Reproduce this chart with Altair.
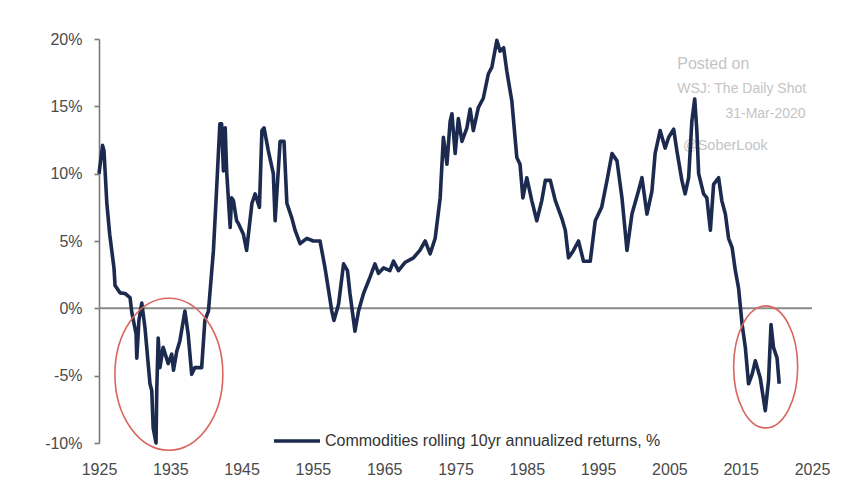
import altair as alt
import pandas as pd

# --- data ---
years = [
    1925.0, 1925.5, 1925.7, 1926.1, 1926.5, 1927.1, 1927.25, 1927.95, 1928.65, 1929.35,
    1929.6, 1930.2, 1930.3, 1930.6, 1931.0, 1931.45, 1932.15, 1932.4, 1932.6, 1933.0,
    1933.1, 1933.3, 1933.55, 1934.0, 1934.7, 1935.2, 1935.45, 1935.9, 1936.35, 1937.05,
    1937.5, 1938.0, 1938.45, 1939.4, 1939.85, 1940.35, 1941.05, 1941.5, 1941.95, 1942.2,
    1942.45, 1942.7, 1942.9, 1943.4, 1943.6, 1943.85, 1944.3, 1944.55, 1945.25, 1945.7,
    1946.45, 1946.9, 1947.5, 1947.85, 1948.15, 1948.75, 1949.45, 1949.7, 1950.4, 1950.95,
    1951.35, 1952.05, 1952.5, 1953.2, 1954.15, 1955.05, 1956.0, 1956.7, 1957.15, 1957.65,
    1957.95, 1958.6, 1959.3, 1959.85, 1960.2, 1960.9, 1961.4, 1962.1, 1963.0, 1963.7,
    1964.2, 1964.9, 1965.8, 1966.3, 1967.0, 1967.9, 1969.1, 1970.0, 1970.75, 1971.45,
    1972.15, 1972.85, 1973.3, 1973.8, 1974.25, 1974.5, 1974.95, 1975.4, 1975.9, 1976.6,
    1977.05, 1977.5, 1978.2, 1978.9, 1979.6, 1980.1, 1980.8, 1981.25, 1981.75, 1982.2,
    1982.9, 1983.6, 1984.05, 1984.45, 1985.0, 1985.7, 1986.4, 1987.1, 1987.6, 1988.3,
    1989.0, 1989.9, 1990.4, 1990.85, 1991.55, 1992.25, 1992.95, 1993.9, 1994.6, 1995.5,
    1996.25, 1996.95, 1997.65, 1998.35, 1999.05, 1999.75, 2000.65, 2001.15, 2001.85, 2002.55,
    2003.0, 2003.7, 2004.4, 2004.9, 2005.6, 2006.05, 2006.75, 2007.2, 2007.7, 2008.15,
    2008.55, 2008.85, 2009.1, 2009.8, 2010.25, 2010.75, 2011.2, 2011.9, 2012.35, 2012.85,
    2013.3, 2013.8, 2014.25, 2014.7, 2015.2, 2015.65, 2016.1, 2016.6, 2017.05, 2017.75,
    2018.45, 2018.9, 2019.25, 2019.6, 2020.1, 2020.4,
]
returns = [
    10.0, 12.1, 11.7, 7.8, 5.5, 3.0, 1.7, 1.15, 1.1, 0.8,
    -0.3, -1.9, -3.7, -0.9, 0.4, -1.45, -5.6, -6.1, -8.9, -10.0,
    -6.1, -2.2, -4.4, -2.9, -4.1, -3.4, -4.6, -3.2, -2.4, -0.2,
    -1.9, -4.9, -4.4, -4.4, -0.9, -0.2, 4.3, 8.9, 13.7, 13.7,
    10.2, 13.4, 10.2, 6.0, 8.2, 8.0, 6.5, 6.3, 5.5, 4.3,
    7.8, 8.5, 7.5, 13.2, 13.4, 11.7, 10.0, 6.5, 12.4, 12.4,
    7.8, 6.7, 5.8, 4.8, 5.2, 5.0, 5.0, 3.0, 1.5, -0.2,
    -0.9, 0.3, 3.3, 2.8, 1.1, -1.7, -0.2, 1.1, 2.3, 3.3,
    2.6, 3.0, 2.8, 3.5, 2.8, 3.4, 3.75, 4.3, 5.0, 4.05,
    5.2, 8.2, 12.7, 10.7, 13.9, 14.45, 11.5, 14.1, 12.4, 13.4,
    14.8, 13.2, 14.9, 15.6, 17.4, 17.9, 19.9, 19.1, 19.35, 17.6,
    15.4, 11.2, 10.7, 8.2, 9.7, 8.0, 6.5, 8.0, 9.5, 9.5,
    8.0, 6.7, 5.8, 3.75, 4.3, 5.0, 3.5, 3.5, 6.5, 7.5,
    9.5, 11.5, 10.95, 8.2, 4.3, 7.0, 8.7, 9.7, 7.0, 8.7,
    11.5, 13.2, 11.9, 12.7, 13.3, 11.7, 9.5, 8.5, 9.7, 13.9,
    15.55, 13.2, 10.0, 8.5, 8.2, 5.8, 9.2, 9.7, 8.0, 7.0,
    5.2, 4.5, 2.8, 1.5, -1.2, -2.9, -5.6, -4.9, -3.9, -5.2,
    -7.6, -5.4, -1.2, -2.9, -3.7, -5.6,
]
series_name = "Commodities rolling 10yr annualized returns, %"

x_ticks = [1925, 1935, 1945, 1955, 1965, 1975, 1985, 1995, 2005, 2015, 2025]
y_ticks = [-10, -5, 0, 5, 10, 15, 20]

# highlighted periods (ellipse centres, in data units)
circle_years = [1934.8, 2018.5]
circle_values = [-4.9, -4.35]
circle_sizes = [23104, 14884]  # marker areas
circle_shapes = [
    "M 0.71 0 C 0.71 0.552 0.392 1 0 1 C -0.392 1 -0.71 0.552 -0.71 0 "
    "C -0.71 -0.552 -0.392 -1 0 -1 C 0.392 -1 0.71 -0.552 0.71 0 Z",
    "M 0.525 0 C 0.525 0.552 0.29 1 0 1 C -0.29 1 -0.525 0.552 -0.525 0 "
    "C -0.525 -0.552 -0.29 -1 0 -1 C 0.29 -1 0.525 -0.552 0.525 0 Z",
]

wm_text = ["Posted on", "WSJ: The Daily Shot", "@SoberLook"]
wm_year = [2006.1, 2006.1, 2006.9]
wm_value = [18.15, 16.3, 12.05]
wm_size = [16, 14, 14.5]
wm_date_text = ["31-Mar-2020"]
wm_date_year = [2024.1]
wm_date_value = [14.45]

FONT = "Liberation Sans"
NAVY = "#1b2a4e"

df = pd.DataFrame({"year": years, "ret": returns, "series": series_name})
zero_df = pd.DataFrame({"y": [0], "x1": [x_ticks[0]], "x2": [x_ticks[-1]]})
circ_df = pd.DataFrame({"year": circle_years, "ret": circle_values,
                        "size": circle_sizes, "shape": circle_shapes})
wm_df = pd.DataFrame({"year": wm_year, "ret": wm_value, "t": wm_text, "fs": wm_size})
wm2_df = pd.DataFrame({"year": wm_date_year, "ret": wm_date_value, "t": wm_date_text})

xscale = alt.Scale(domain=[x_ticks[0], x_ticks[-1]], nice=False, zero=False)
yscale = alt.Scale(domain=[y_ticks[0], y_ticks[-1]], nice=False, zero=False)

x_axis = alt.Axis(values=x_ticks, format="d", title=None, grid=False, domain=False,
                  ticks=False, tickSize=0, labelPadding=18, labelFontSize=16,
                  labelColor="#4a4a4a", labelFont=FONT, labelFlush=False,
                  labelOverlap=False)
y_axis = alt.Axis(values=y_ticks, labelExpr="datum.value + '%'", title=None, grid=False,
                  domain=True, domainColor="#7a7a7a", domainWidth=1.6,
                  ticks=True, tickSize=5, tickColor="#7a7a7a", tickWidth=1.6,
                  labelPadding=12, labelFontSize=16, labelColor="#4a4a4a", labelFont=FONT,
                  labelFlush=False)

zero = alt.Chart(zero_df).mark_rule(color="#8a8a8a", strokeWidth=2).encode(
    x=alt.X("x1:Q", scale=xscale, axis=x_axis),
    x2="x2:Q",
    y=alt.Y("y:Q", scale=yscale, axis=y_axis),
)

line = alt.Chart(df).mark_line(strokeWidth=3.6, strokeJoin="round").encode(
    x=alt.X("year:Q", scale=xscale),
    y=alt.Y("ret:Q", scale=yscale),
    color=alt.Color(
        "series:N",
        scale=alt.Scale(range=[NAVY]),
        legend=alt.Legend(
            title=None, orient="none", legendX=173, legendY=377,
            symbolType="stroke", symbolSize=2116, symbolStrokeWidth=3.5,
            labelFontSize=16, labelColor="#333333", labelFont=FONT,
            labelOffset=3, padding=0, labelLimit=600,
        ),
    ),
)

circles = alt.Chart(circ_df).mark_point(
    filled=False, color="#d9655f", strokeWidth=1.6, opacity=1
).encode(
    x=alt.X("year:Q", scale=xscale),
    y=alt.Y("ret:Q", scale=yscale),
    size=alt.Size("size:Q", scale=None, legend=None),
    shape=alt.Shape("shape:N", scale=None, legend=None),
)

wm = alt.Chart(wm_df).mark_text(
    align="left", baseline="middle", color="#c4c4c4", font=FONT
).encode(x=alt.X("year:Q", scale=xscale), y=alt.Y("ret:Q", scale=yscale), text="t:N",
         size=alt.Size("fs:Q", scale=None, legend=None))

wm2 = alt.Chart(wm2_df).mark_text(
    align="right", baseline="middle", fontSize=14, color="#c4c4c4", font=FONT
).encode(x=alt.X("year:Q", scale=xscale), y=alt.Y("ret:Q", scale=yscale), text="t:N")

chart = alt.layer(zero, wm, wm2, line, circles).properties(
    width=713, height=404,
    autosize=alt.AutoSizeParams(type="none"),
    padding={"left": 91, "top": 31, "right": 20, "bottom": 42},
    background="white",
).configure_view(stroke=None)

chart.save("out.html", embed_options={"renderer": "svg", "actions": False})
